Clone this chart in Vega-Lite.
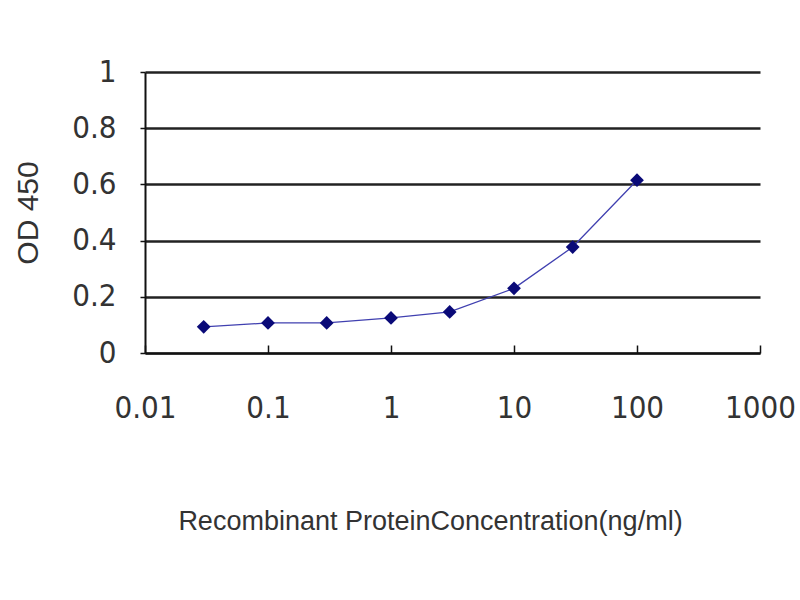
{
  "$schema": "https://vega.github.io/schema/vega-lite/v6.json",
  "autosize": "none",
  "padding": {"left": 145, "top": 72, "right": 40, "bottom": 247},
  "width": 615,
  "height": 281,
  "background": "white",
  "config": {
    "view": {"stroke": null},
    "axis": {
      "labelFont": "DejaVu Sans Condensed, Liberation Sans, Arial",
      "titleFont": "Liberation Sans, Arial",
      "labelColor": "#333333",
      "titleColor": "#333333",
      "titleFontWeight": "normal",
      "domainColor": "#111111",
      "tickColor": "#111111",
      "gridColor": "#222222"
    }
  },
  "data": {
    "values": [
      {"conc": 0.03, "od": 0.093},
      {"conc": 0.1, "od": 0.107},
      {"conc": 0.3, "od": 0.107},
      {"conc": 1, "od": 0.125},
      {"conc": 3, "od": 0.146},
      {"conc": 10, "od": 0.23},
      {"conc": 30, "od": 0.377},
      {"conc": 100, "od": 0.615}
    ]
  },
  "encoding": {
    "x": {
      "field": "conc",
      "type": "quantitative",
      "scale": {"type": "log", "domain": [0.01, 1000], "nice": false},
      "axis": {
        "title": "Recombinant ProteinConcentration(ng/ml)",
        "values": [0.01, 0.1, 1, 10, 100, 1000],
        "format": "~g",
        "labelFontSize": 31,
        "labelPadding": 48,
        "labelFlush": false,
        "tickSize": -8,
        "tickWidth": 1.5,
        "domainWidth": 2,
        "grid": false,
        "titleFontSize": 27,
        "titlePadding": 85,
        "titleX": 285,
        "titleAlign": "center"
      }
    },
    "y": {
      "field": "od",
      "type": "quantitative",
      "scale": {"domain": [0, 1], "nice": false},
      "axis": {
        "title": "OD 450",
        "values": [0, 0.2, 0.4, 0.6, 0.8, 1],
        "format": "~g",
        "labelFontSize": 31,
        "labelPadding": 24,
        "tickSize": 5,
        "tickWidth": 1.5,
        "domainWidth": 2,
        "gridWidth": 2.5,
        "titleFontSize": 30,
        "titlePadding": 28
      }
    }
  },
  "layer": [
    {"mark": {"type": "line", "color": "#4040b0", "strokeWidth": 1.3}},
    {"mark": {"type": "point", "shape": "diamond", "filled": true, "size": 190, "color": "#0a0a78", "opacity": 1}}
  ]
}
